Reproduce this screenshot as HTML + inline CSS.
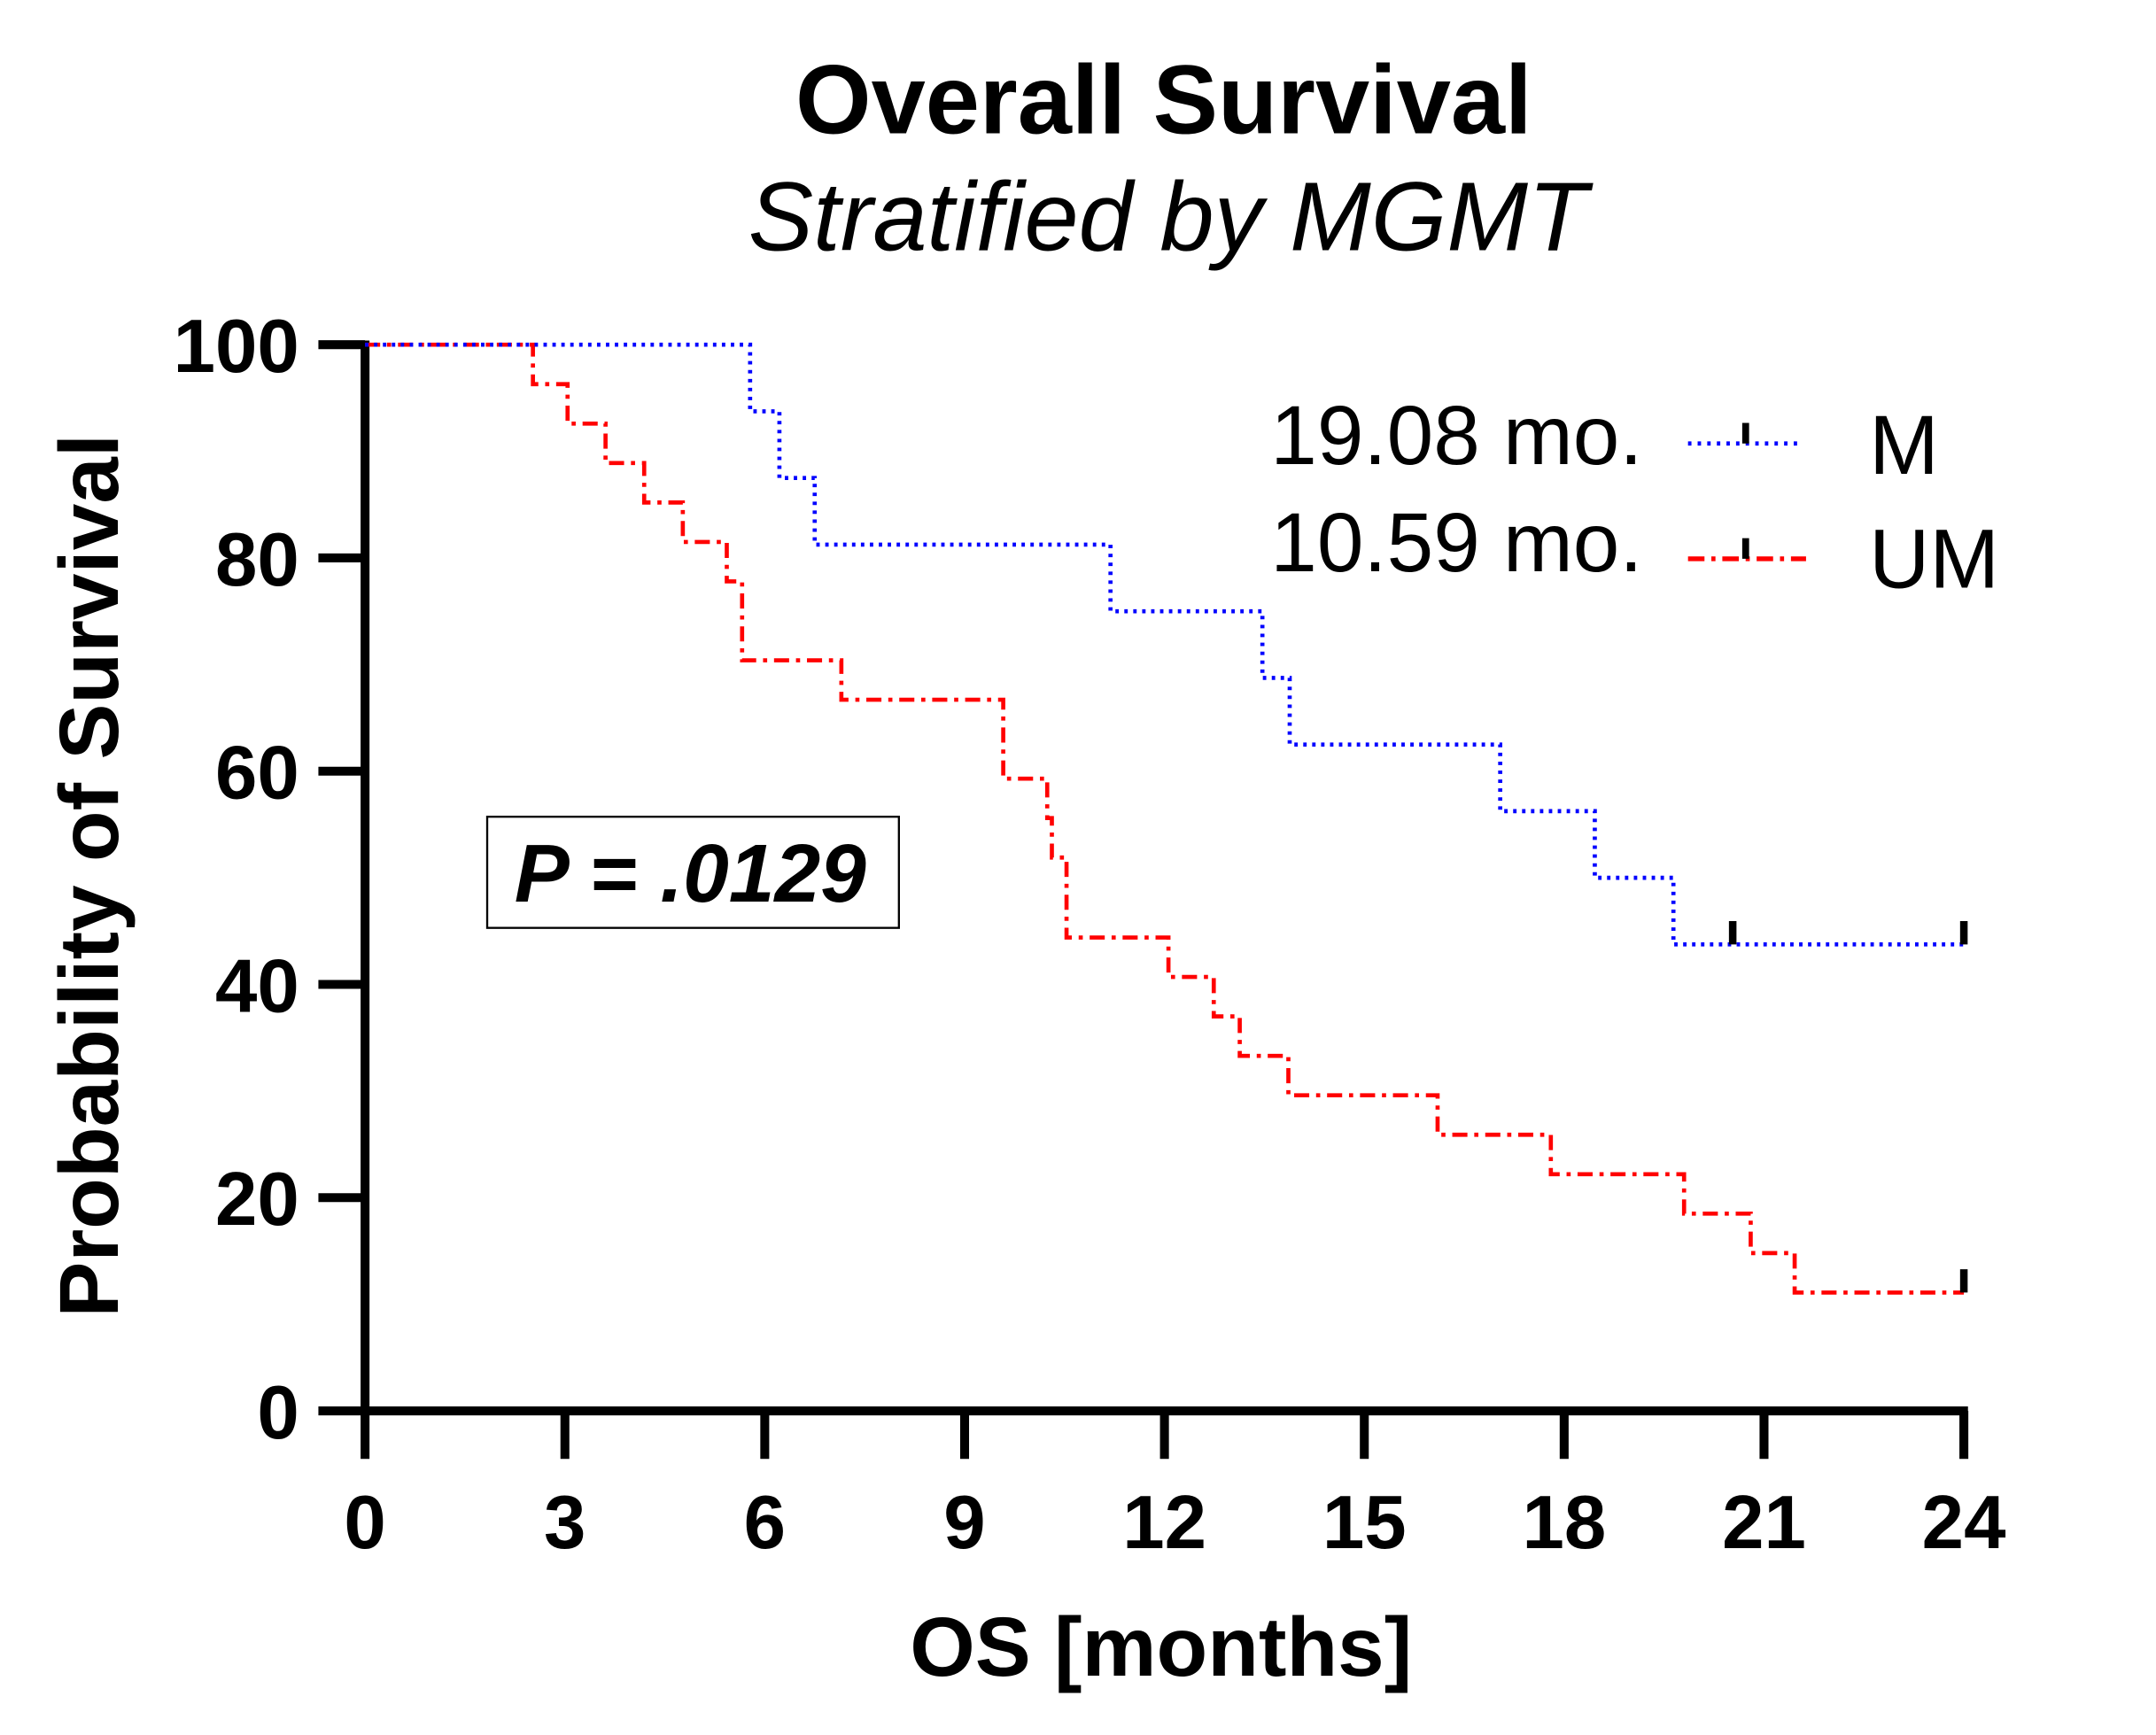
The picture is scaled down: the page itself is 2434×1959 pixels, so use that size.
<!DOCTYPE html>
<html><head><meta charset="utf-8"><style>
html,body{margin:0;padding:0;background:#fff;}
svg{display:block;}
text{font-family:"Liberation Sans",Arial,sans-serif;}
</style></head><body>
<svg id="chart" width="2434" height="1959" viewBox="0 0 1571 1264" xmlns="http://www.w3.org/2000/svg">
<rect width="1571" height="1264" fill="#fff"/>
<text x="848" y="97" text-anchor="middle" font-size="71" font-weight="bold">Overall Survival</text>
<text x="851" y="182" text-anchor="middle" font-size="71" font-style="italic">Stratified by MGMT</text>
<g id="axes"></g>
<g id="series"></g>
<rect x="355" y="595" width="300" height="81" fill="none" stroke="#000" stroke-width="1.5"/>
<text x="503" y="657" text-anchor="middle" font-size="60" font-weight="bold" font-style="italic">P = .0129</text>
<text transform="translate(86,638) rotate(-90)" text-anchor="middle" font-size="61" font-weight="bold">Probability of Survival</text>
<text x="846" y="1221" text-anchor="middle" font-size="61" font-weight="bold">OS [months]</text>
<g>
<text x="1197" y="338" text-anchor="end" font-size="61">19.08 mo.</text>
<line x1="1230" y1="323" x2="1312" y2="323" stroke="#0000ff" stroke-width="3" stroke-dasharray="2.5,4.5"/>
<line x1="1272" y1="308" x2="1272" y2="323" stroke="#000" stroke-width="5"/>
<text x="1362" y="345" font-size="61">M</text>
<text x="1197" y="416" text-anchor="end" font-size="61">10.59 mo.</text>
<line x1="1230" y1="407" x2="1316" y2="407" stroke="#ff0000" stroke-width="3.5" stroke-dasharray="12,5,3,5"/>
<line x1="1272" y1="392" x2="1272" y2="407" stroke="#000" stroke-width="5"/>
<text x="1362" y="428" font-size="61">UM</text>
</g>
</svg>
<script>
const xTicks = [0,3,6,9,12,15,18,21,24];
const yTicks = [0,20,40,60,80,100];
const mTimes = [5.78,6.22,6.75,11.19,13.47,13.88,17.04,18.46,19.64];
const mSurv = [93.75,87.5,81.25,75,68.75,62.5,56.25,50,43.75];
const mCensor = [20.53,24];
const umTimes = [2.52,3.04,3.61,4.19,4.77,5.43,5.66,7.15,9.58,10.24,10.31,10.53,12.06,12.74,13.13,13.86,16.1,17.8,19.8,20.8,21.46];
const umSurv = [96.3,92.6,88.9,85.2,81.5,77.8,70.4,66.7,59.3,55.6,51.9,44.4,40.7,37.0,33.3,29.6,25.9,22.2,18.5,14.8,11.1];
const umCensor = [24];

const NS='http://www.w3.org/2000/svg';
const X0=266,X1=1431,Y0=1028,Y1=251;
function sx(t){return X0+(X1-X0)*t/24;}
function sy(v){return Y0-(Y0-Y1)*v/100;}
function mk(tag,attrs,parent){const e=document.createElementNS(NS,tag);for(const k in attrs)e.setAttribute(k,attrs[k]);parent.appendChild(e);return e;}
const axes=document.getElementById('axes');
const series=document.getElementById('series');

const ya=mk('line',{x1:X0,y1:Y1-3,x2:X0,y2:Y0+3,stroke:'#000','stroke-width':6.5},axes);


const xa=mk('line',{x1:X0-3,y1:Y0,x2:X1+3,y2:Y0,stroke:'#000','stroke-width':6.5},axes);


yTicks.forEach(v=>{
  mk('line',{x1:X0-34,y1:sy(v),x2:X0,y2:sy(v),stroke:'#000','stroke-width':6.5},axes);
  const t=mk('text',{x:X0-48,y:sy(v)+20,'text-anchor':'end','font-size':55,'font-weight':'bold'},axes);
  t.textContent=v;
  
  
});
xTicks.forEach(v=>{
  mk('line',{x1:sx(v),y1:Y0,x2:sx(v),y2:Y0+35,stroke:'#000','stroke-width':6.5},axes);
  const t=mk('text',{x:sx(v),y:Y0+100,'text-anchor':'middle','font-size':55,'font-weight':'bold'},axes);
  t.textContent=v;
  
  
});
function stepPath(times,surv,end){
  let d='M'+sx(0)+','+sy(100);
  times.forEach((t,i)=>{d+=' H'+sx(t)+' V'+sy(surv[i]);});
  d+=' H'+sx(end);return d;
}
function draw(times,surv,censor,color,dash,name){
  const d=stepPath(times,surv,24);
  const p=mk('path',{d:d,fill:'none',stroke:color,'stroke-width':3,'stroke-dasharray':dash},series);
  
  
  censor.forEach(c=>{
    let v=100;times.forEach((t,i)=>{if(t<=c)v=surv[i];});
    const m=mk('line',{x1:sx(c),y1:sy(v)-17,x2:sx(c),y2:sy(v),stroke:'#000','stroke-width':5.5},series);
    
    
  });
}
draw(umTimes,umSurv,umCensor,'#ff0000','11,5,3,5','um-curve');
draw(mTimes,mSurv,mCensor,'#0000ff','2.5,4','m-curve');
</script>
</body></html>
